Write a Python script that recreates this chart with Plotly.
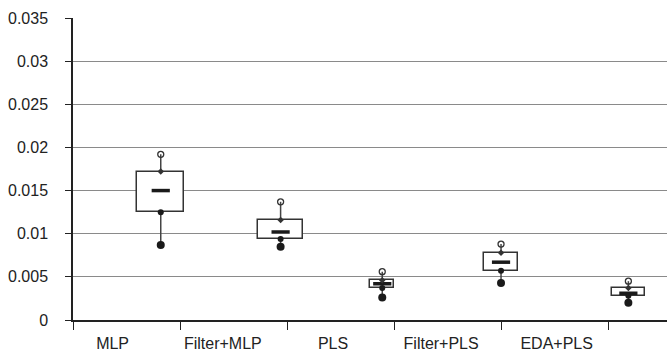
import plotly.graph_objects as go

categories = ["MLP", "Filter+MLP", "PLS", "Filter+PLS", "EDA+PLS"]
max_vals = [0.0192, 0.0137, 0.0056, 0.0088, 0.0045]
q3_vals = [0.0172, 0.0116, 0.0046, 0.0078, 0.0037]
median_vals = [0.0150, 0.0102, 0.0042, 0.0067, 0.0031]
q1_vals = [0.0125, 0.0094, 0.0037, 0.0057, 0.0028]
min_vals = [0.0087, 0.0085, 0.0026, 0.0043, 0.0020]
y_ticks = [0, 0.005, 0.01, 0.015, 0.02, 0.025, 0.03, 0.035]
y_tick_labels = ["0", "0.005", "0.01", "0.015", "0.02", "0.025", "0.03", "0.035"]

# layout constants (positions on a numeric category axis)
box_pos = [0.82, 1.94, 2.89, 4.0, 5.19]
box_width = [0.44, 0.42, 0.22, 0.31, 0.31]
label_pos = [0.37, 1.40, 2.43, 3.44, 4.52]
tick_marks = [0, 1, 2, 3, 4, 5]

DARK = "#1a1a1a"
fig = go.Figure()

# whiskers (outside the box)
wx, wy = [], []
for p, mx, q3, q1, mn in zip(box_pos, max_vals, q3_vals, q1_vals, min_vals):
    wx += [p, p, None, p, p, None]
    wy += [mx, q3, None, q1, mn, None]
fig.add_trace(go.Scatter(x=wx, y=wy, mode="lines",
                         line=dict(color="#444", width=1.5),
                         hoverinfo="skip", showlegend=False))

# boxes
fig.add_trace(go.Bar(x=box_pos, base=q1_vals,
                     y=[a - b for a, b in zip(q3_vals, q1_vals)],
                     width=box_width,
                     marker=dict(color="white", line=dict(color="#333", width=1.5)),
                     showlegend=False))

# median dash
fig.add_trace(go.Scatter(x=box_pos, y=median_vals, mode="markers",
                         marker=dict(symbol="line-ew", size=13, color=DARK,
                                     line=dict(color=DARK, width=3.5)),
                         showlegend=False))
# max open circles
fig.add_trace(go.Scatter(x=box_pos, y=max_vals, mode="markers",
                         marker=dict(symbol="circle-open", size=6, color="#333",
                                     line=dict(color="#333", width=1.3)),
                         showlegend=False))
# q3 small diamonds
fig.add_trace(go.Scatter(x=box_pos, y=q3_vals, mode="markers",
                         marker=dict(symbol="diamond", size=5, color="#333"),
                         showlegend=False))
# q1 dots
fig.add_trace(go.Scatter(x=box_pos, y=q1_vals, mode="markers",
                         marker=dict(symbol="circle", size=6, color=DARK),
                         showlegend=False))
# min dots
fig.add_trace(go.Scatter(x=box_pos, y=min_vals, mode="markers",
                         marker=dict(symbol="circle", size=8, color=DARK),
                         showlegend=False))

FONT = "Liberation Sans, Arial, sans-serif"
fig.update_layout(
    width=667, height=360,
    margin=dict(l=73, r=0, t=18, b=40),
    plot_bgcolor="white", paper_bgcolor="white",
    font=dict(family=FONT, size=16, color="#222"),
    bargap=0,
    xaxis=dict(range=[0, 5.551], tickmode="array", tickvals=label_pos,
               ticktext=categories, ticks="", showgrid=False, zeroline=False,
               showline=True, linecolor="#222", linewidth=1.5,
               ticklabelstandoff=8,
               tickfont=dict(size=16, color="#222"),
               minor=dict(tickmode="array", tickvals=tick_marks, ticks="outside",
                          ticklen=8, tickcolor="#222", tickwidth=1.2, showgrid=False)),
    yaxis=dict(range=[0, 0.035], tickmode="array", tickvals=y_ticks,
               ticktext=y_tick_labels, ticks="outside", ticklen=6,
               tickcolor="#222", tickwidth=1.2, ticklabelstandoff=14,
               showline=True, linecolor="#222", linewidth=1.5,
               showgrid=True, gridcolor="#8a8a8a", gridwidth=1.3,
               zeroline=False, tickfont=dict(size=16, color="#222")),
)

fig.write_html("out.html")
